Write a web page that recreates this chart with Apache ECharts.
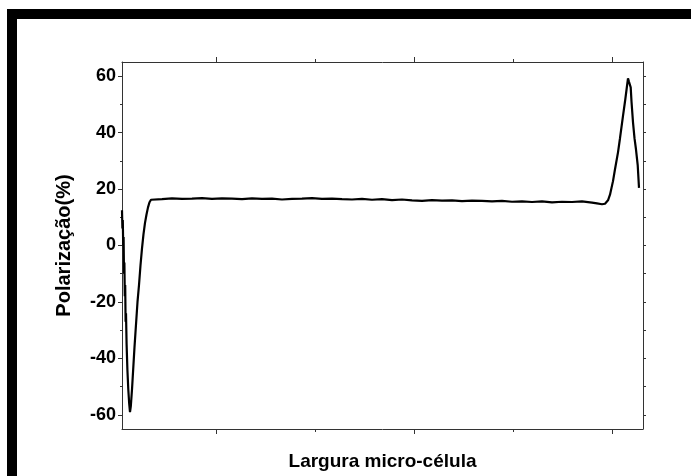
<!DOCTYPE html>
<html lang="pt">
<head>
    <meta charset="UTF-8">
    <title>Polarização</title>
    <script src="https://cdn.jsdelivr.net/npm/echarts@6/dist/echarts.min.js"></script>
    <style>
        html, body { margin: 0; padding: 0; background: #fff; }
        #chart { width: 691px; height: 476px; }
    </style>
</head>
<body>
<div id="chart"></div>
<script>
    // posição ao longo da micro-célula (unidades arbitrárias) e polarização (%)
    const posX = [
        0, 0.4, 0.8, 1.2, 1.6, 2.0, 2.4, 2.8, 3.2, 3.6, 4.0, 4.6, 5.4, 6.3, 7.2, 8, 8.8,
        10, 11, 12.5, 14, 15.5, 17, 18.5, 20, 21.5, 23, 24.5, 26, 27.5, 29,
        31, 40, 50, 60, 70, 80, 90, 100, 110, 120, 130, 140, 150, 160, 170, 180, 190,
        200, 210, 220, 230, 240, 250, 260, 270, 280, 290, 300, 310, 320, 330, 340,
        350, 360, 370, 380, 390, 400, 410, 420, 430, 440, 450, 460, 470, 475, 480,
        483, 486, 488, 491, 493, 496, 498, 501, 503, 505, 506, 507, 508.7, 509.5,
        511, 512.5, 514, 515.7, 517
    ];
    const polarizacao = [
        12.5, 6, 9, 0, 3, -10, -6, -18, -14, -27, -24, -35, -44, -51, -56, -59, -57,
        -51, -45, -36, -28, -20, -14, -7, -1, 4, 8, 11, 13.5, 15.3, 16.2,
        16.6, 16.4, 16.7, 16.5, 16.6, 16.8, 16.5, 16.7, 16.6, 16.4, 16.7, 16.5, 16.6, 16.3, 16.5, 16.6, 16.8,
        16.5, 16.6, 16.4, 16.3, 16.5, 16.2, 16.4, 16.1, 16.3, 16.0, 15.8, 16.1, 15.9, 16.0, 15.7,
        15.9, 15.8, 15.6, 15.8, 15.5, 15.6, 15.4, 15.6, 15.3, 15.5, 15.4, 15.6, 15.2, 14.9, 14.6,
        14.8, 16, 18, 22.8, 27, 33, 38, 45.9, 51, 56.5, 59.2, 58, 56, 51,
        43.6, 38, 34, 28.5, 20.4
    ];

    // marcas dos eixos
    const xMajorTicks = [94, 292, 490];
    const xMinorTicks = [193, 391];
    const yMajorTicks = [-60, -40, -20, 0, 20, 40, 60];
    const yMinorTicks = [-50, -30, -10, 10, 30, 50];
    const yRightTicks = [-60, -50, -40, -30, -20, -10, 0, 10, 20, 30, 40, 50, 60];

    const xMin = 0, xMax = 521;
    const yMin = -65, yMax = 65;

    const lineColor = '#333';
    const font = 'Liberation Sans, Arial, sans-serif';

    function xAxisDef(position, ticks, len, showLine) {
        return {
            type: 'value', position: position, min: xMin, max: xMax,
            axisLine: { show: showLine, onZero: false, lineStyle: { color: lineColor, width: 1 } },
            axisTick: { show: true, customValues: ticks, length: len, lineStyle: { color: lineColor } },
            axisLabel: { show: false },
            splitLine: { show: false }
        };
    }

    function yAxisDef(position, ticks, len, showLine) {
        return {
            type: 'value', position: position, min: yMin, max: yMax,
            axisLine: { show: showLine, onZero: false, lineStyle: { color: lineColor, width: 1 } },
            axisTick: { show: true, customValues: ticks, length: len, lineStyle: { color: lineColor } },
            axisLabel: { show: false },
            splitLine: { show: false }
        };
    }

    const xBottom = xAxisDef('bottom', xMajorTicks, 5, true);
    xBottom.name = 'Largura micro-célula';
    xBottom.nameLocation = 'middle';
    xBottom.nameGap = 23;
    xBottom.nameTextStyle = { fontFamily: font, fontWeight: 'bold', fontSize: 19, color: '#000' };

    const yLeft = yAxisDef('left', yMajorTicks, 4, true);
    yLeft.axisLabel = {
        show: true, customValues: yMajorTicks, margin: 6,
        fontFamily: font, fontWeight: 'bold', fontSize: 18, color: '#000'
    };
    yLeft.name = 'Polarização(%)';
    yLeft.nameLocation = 'middle';
    yLeft.nameGap = 48;
    yLeft.nameTextStyle = { fontFamily: font, fontWeight: 'bold', fontSize: 20, color: '#000' };

    const chart = echarts.init(document.getElementById('chart'));
    chart.setOption({
        animation: false,
        backgroundColor: '#fff',
        grid: { left: 122, top: 62, right: 48, bottom: 40, containLabel: false },
        graphic: [
            { type: 'rect', shape: { x: 7, y: 9, width: 684, height: 10 }, style: { fill: '#000' } },
            { type: 'rect', shape: { x: 7, y: 9, width: 10, height: 467 }, style: { fill: '#000' } }
        ],
        xAxis: [
            xBottom,
            xAxisDef('bottom', xMinorTicks, 3, false),
            xAxisDef('top', xMajorTicks, 5, true),
            xAxisDef('top', xMinorTicks, 3, false)
        ],
        yAxis: [
            yLeft,
            yAxisDef('left', yMinorTicks, 2, false),
            yAxisDef('right', yRightTicks, 3, true)
        ],
        series: [{
            type: 'line',
            xAxisIndex: 0,
            yAxisIndex: 0,
            showSymbol: false,
            smooth: false,
            lineStyle: { color: '#000', width: 2.2 },
            data: posX.map((x, i) => [x, polarizacao[i]])
        }]
    });
</script>
</body>
</html>
